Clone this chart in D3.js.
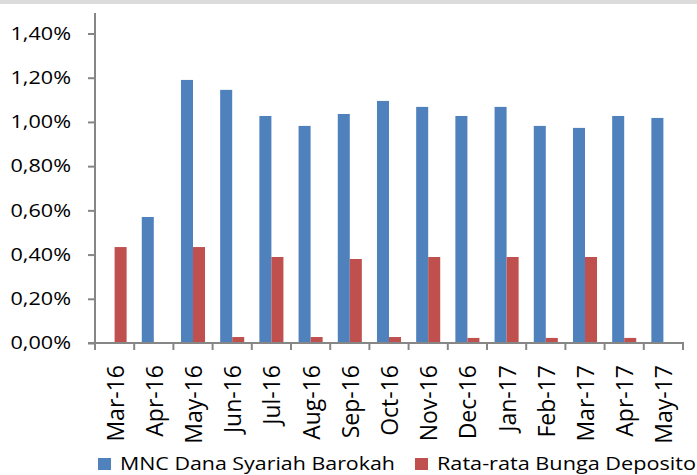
<!DOCTYPE html>
<html>
<head>
<meta charset="utf-8">
<script src="https://cdn.jsdelivr.net/npm/d3@7"></script>
<style>
    body { margin: 0; background: #fff; }
    text { font-family: "Open Sans", Lato, sans-serif; fill: #000; }
</style>
</head>
<body>
<div id="chart"></div>
<script>
"use strict";

// Data
let months = ["Mar-16", "Apr-16", "May-16", "Jun-16", "Jul-16", "Aug-16", "Sep-16", "Oct-16",
    "Nov-16", "Dec-16", "Jan-17", "Feb-17", "Mar-17", "Apr-17", "May-17"];
let seriesNames = ["MNC Dana Syariah Barokah", "Rata-rata Bunga Deposito"];
let mncValues = [0, 0.57, 1.19, 1.145, 1.027, 0.982, 1.036, 1.095, 1.068, 1.027, 1.068, 0.982, 0.973, 1.027, 1.018];
let depositoValues = [0.434, 0, 0.434, 0.027, 0.389, 0.027, 0.380, 0.027, 0.389, 0.023, 0.389, 0.023, 0.389, 0.023, 0];
let yTicks = [0, 0.2, 0.4, 0.6, 0.8, 1.0, 1.2, 1.4];
let colors = ["#4F81BD", "#C0504D"];

let width = 697,
    height = 475,
    margin = { top: 13, right: 14, bottom: 132, left: 95 };

let svg = d3.select("#chart")
    .append("svg")
    .attr("width", width)
    .attr("height", height);

// thin grey strip on top of the picture
svg.append("rect")
    .attr("x", 0).attr("y", 0)
    .attr("width", width).attr("height", 4)
    .attr("fill", "#dcdcdc");

let x0 = d3.scaleBand()
    .domain(months)
    .range([margin.left, width - margin.right])
    .paddingInner(0)
    .paddingOuter(0);

let x1 = d3.scaleBand()
    .domain(seriesNames)
    .range([0, x0.bandwidth()])
    .paddingInner(0)
    .paddingOuter(0.63);

let y = d3.scaleLinear()
    .domain([0, 1.4])
    .range([height - margin.bottom, 33.5]);

let fmt = function (v) {
    return v.toFixed(2).replace(".", ",") + "%";
};

// Bars
let rows = months.map(function (m, i) {
    return { month: m, values: [mncValues[i], depositoValues[i]] };
});

let groups = svg.append("g")
    .attr("class", "bars")
    .selectAll("g")
    .data(rows)
    .enter().append("g")
    .attr("transform", function (d) {
        return "translate(" + x0(d.month) + ",0)";
    });

groups.selectAll("rect")
    .data(function (d) {
        return d.values.map(function (v, k) { return { name: seriesNames[k], value: v, k: k }; });
    })
    .enter().append("rect")
    .filter(function (d) { return d.value > 0; })
    .attr("x", function (d) { return x1(d.name); })
    .attr("width", x1.bandwidth())
    .attr("y", function (d) { return y(d.value); })
    .attr("height", function (d) { return y(0) - y(d.value); })
    .attr("fill", function (d) { return colors[d.k]; });

// Y axis
let yAxis = svg.append("g")
    .attr("transform", "translate(" + margin.left + ",0)")
    .call(d3.axisLeft(y).tickValues(yTicks).tickFormat(fmt).tickSize(7).tickSizeOuter(0));
yAxis.select(".domain").remove();
yAxis.selectAll(".tick line").attr("stroke", "#868686").attr("stroke-width", 2);
yAxis.selectAll(".tick text")
    .attr("x", 0)
    .attr("font-size", 18)
    .attr("text-anchor", "end")
    .attr("transform", "translate(-24,0) scale(1.2,1)");
yAxis.append("line")
    .attr("x1", 0).attr("x2", 0)
    .attr("y1", margin.top).attr("y2", y(0) + 1)
    .attr("stroke", "#868686").attr("stroke-width", 2);

// X axis
let xAxis = svg.append("g")
    .attr("transform", "translate(0," + y(0) + ")");
xAxis.append("line")
    .attr("x1", margin.left - 7).attr("x2", width - margin.right + 1)
    .attr("stroke", "#868686").attr("stroke-width", 2);
xAxis.selectAll(".xtick")
    .data(months.concat(["end"]))
    .enter().append("line")
    .attr("x1", function (d, i) { return i < months.length ? x0(d) : x0.range()[1]; })
    .attr("x2", function (d, i) { return i < months.length ? x0(d) : x0.range()[1]; })
    .attr("y1", 0).attr("y2", 7)
    .attr("stroke", "#868686").attr("stroke-width", 2);
xAxis.selectAll(".xlabel")
    .data(months)
    .enter().append("text")
    .attr("transform", function (d) {
        return "translate(" + (x0(d) + x0.bandwidth() / 2 + 9) + ",22) rotate(-90)";
    })
    .attr("text-anchor", "end")
    .attr("font-size", 23)
    .text(function (d) { return d; });

// Legend
let legendX = [98, 415];
let legend = svg.append("g").attr("class", "legend")
    .selectAll("g")
    .data(seriesNames)
    .enter().append("g")
    .attr("transform", function (d, i) { return "translate(" + legendX[i] + ",458)"; });
legend.append("rect")
    .attr("width", 13).attr("height", 12)
    .attr("fill", function (d, i) { return colors[i]; });
legend.append("text")
    .attr("x", 22).attr("y", 12)
    .attr("font-size", 18)
    .attr("textLength", function (d, i) { return [275, 259][i]; })
    .attr("lengthAdjust", "spacingAndGlyphs")
    .text(function (d) { return d; });
</script>
</body>
</html>
